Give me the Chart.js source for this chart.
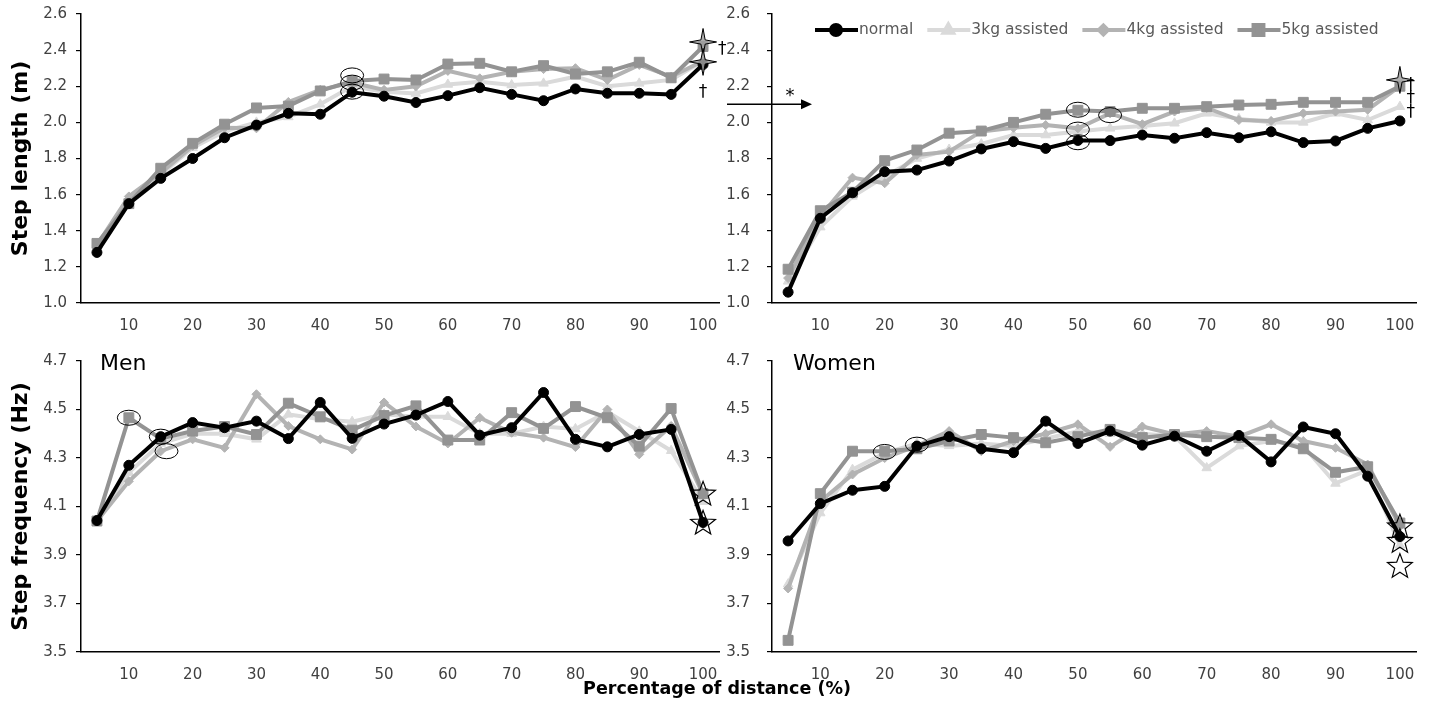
<!DOCTYPE html>
<html>
<head>
<meta charset="utf-8">
<script src="https://cdn.jsdelivr.net/npm/chart.js@4.4.1/dist/chart.umd.min.js"></script>
<style>
  body { margin: 0; background: #fff; }
  #wrap { position: relative; width: 1434px; height: 711px; overflow: hidden; }
  .box { position: absolute; width: 735px; height: 340px; }
  #xtitle { position: absolute; left: 0; width: 1434px; top: 678px; text-align: center;
            font: bold 17.5px "DejaVu Sans", sans-serif; color: #000; }
</style>
</head>
<body>
<div id="wrap">
  <div class="box" style="left:0;top:0"><canvas id="tl"></canvas></div>
  <div class="box" style="left:720px;top:0;width:714px"><canvas id="tr"></canvas></div>
  <div class="box" style="left:0;top:345px"><canvas id="bl"></canvas></div>
  <div class="box" style="left:720px;top:345px;width:714px"><canvas id="br"></canvas></div>
  <div id="xtitle">Percentage of distance (%)</div>
</div>
<script>
// categorias (% da distância) e nomes das séries
const categories = [5, 10, 15, 20, 25, 30, 35, 40, 45, 50, 55, 60, 65, 70, 75, 80, 85, 90, 95, 100];
const seriesNames = ['normal', '3kg assisted', '4kg assisted', '5kg assisted'];
const lengthTicks = [1.0, 1.2, 1.4, 1.6, 1.8, 2.0, 2.2, 2.4, 2.6];
const freqTicks = [3.5, 3.7, 3.9, 4.1, 4.3, 4.5, 4.7];

// Step length - men
const normalMenSL = [1.28, 1.55, 1.69, 1.80, 1.915, 1.985, 2.05, 2.045, 2.167, 2.145, 2.11, 2.148, 2.192, 2.155, 2.12, 2.185, 2.161, 2.161, 2.155, 2.32];
const kg3MenSL = [1.32, 1.57, 1.71, 1.86, 1.95, 2.00, 2.03, 2.10, 2.20, 2.17, 2.16, 2.21, 2.225, 2.207, 2.216, 2.253, 2.20, 2.216, 2.235, 2.34];
const kg4MenSL = [1.32, 1.59, 1.72, 1.87, 1.97, 1.967, 2.113, 2.18, 2.22, 2.18, 2.20, 2.285, 2.244, 2.28, 2.295, 2.30, 2.235, 2.318, 2.253, 2.34];
const kg5MenSL = [1.33, 1.55, 1.746, 1.884, 1.99, 2.08, 2.09, 2.174, 2.229, 2.24, 2.235, 2.323, 2.327, 2.28, 2.314, 2.268, 2.28, 2.333, 2.247, 2.42];

// Step length - women
const normalWomenSL = [1.06, 1.469, 1.61, 1.727, 1.736, 1.786, 1.853, 1.893, 1.856, 1.90, 1.899, 1.93, 1.912, 1.943, 1.915, 1.948, 1.888, 1.897, 1.967, 2.008];
const kg3WomenSL = [1.12, 1.42, 1.59, 1.70, 1.80, 1.85, 1.88, 1.93, 1.93, 1.95, 1.967, 1.98, 1.995, 2.05, 2.02, 2.0, 2.0, 2.05, 2.013, 2.087];
const kg4WomenSL = [1.138, 1.48, 1.694, 1.663, 1.82, 1.838, 1.95, 1.97, 1.985, 1.967, 2.05, 1.99, 2.06, 2.08, 2.013, 2.008, 2.05, 2.06, 2.07, 2.2];
const kg5WomenSL = [1.187, 1.511, 1.613, 1.788, 1.847, 1.94, 1.952, 2.0, 2.045, 2.067, 2.06, 2.078, 2.078, 2.087, 2.096, 2.10, 2.111, 2.111, 2.111, 2.2];

// Step frequency - men
const normalMenSF = [4.042, 4.27, 4.388, 4.446, 4.425, 4.452, 4.38, 4.529, 4.381, 4.44, 4.477, 4.533, 4.394, 4.425, 4.57, 4.377, 4.346, 4.397, 4.418, 4.034];
const kg3MenSF = [4.04, 4.24, 4.36, 4.40, 4.40, 4.377, 4.48, 4.46, 4.45, 4.48, 4.47, 4.47, 4.40, 4.40, 4.43, 4.42, 4.49, 4.41, 4.33, 4.12];
const kg4MenSF = [4.04, 4.204, 4.328, 4.377, 4.342, 4.563, 4.432, 4.377, 4.335, 4.529, 4.43, 4.36, 4.466, 4.404, 4.384, 4.345, 4.50, 4.315, 4.432, 4.15];
const kg5MenSF = [4.04, 4.466, 4.38, 4.411, 4.43, 4.397, 4.526, 4.47, 4.415, 4.475, 4.515, 4.374, 4.374, 4.487, 4.422, 4.512, 4.466, 4.349, 4.504, 4.153];

// Step frequency - women
const normalWomenSF = [3.958, 4.112, 4.167, 4.183, 4.349, 4.388, 4.338, 4.322, 4.452, 4.36, 4.411, 4.353, 4.39, 4.328, 4.393, 4.284, 4.428, 4.40, 4.225, 3.976];
const kg3WomenSF = [3.78, 4.073, 4.252, 4.32, 4.36, 4.35, 4.36, 4.35, 4.38, 4.41, 4.40, 4.40, 4.39, 4.259, 4.349, 4.37, 4.35, 4.195, 4.25, 3.94];
const kg4WomenSF = [3.762, 4.121, 4.232, 4.30, 4.35, 4.411, 4.328, 4.37, 4.40, 4.439, 4.346, 4.43, 4.397, 4.411, 4.388, 4.439, 4.37, 4.342, 4.273, 4.018];
const kg5WomenSF = [3.548, 4.153, 4.328, 4.328, 4.338, 4.37, 4.397, 4.384, 4.363, 4.388, 4.418, 4.384, 4.397, 4.388, 4.384, 4.377, 4.338, 4.241, 4.264, 4.032];

// marcas de significância (x em %, y no valor do eixo)
const menLengthCircles = [[45, 2.26], [45, 2.22], [45, 2.17]];
const menLengthSparkles = [[100, 2.445], [100, 2.335]];
const menLengthDaggers = [[103, 2.405], [100, 2.165]];
const womenLengthCircles = [[50, 2.07], [50, 1.96], [50, 1.89], [55, 2.04]];
const womenLengthSparkles = [[100, 2.235]];
const womenLengthDaggers = [[101.7, 2.205], [101.7, 2.13], [101.7, 2.052]];
const womenLengthArrow = 2.1;
const menFreqCircles = [[10, 4.466], [15, 4.388], [15.9, 4.328]];
const menFreqStars = [[100, 4.15], [100, 4.03]];
const womenFreqCircles = [[20, 4.325], [25, 4.355]];
const womenFreqStars = [[100, 4.015], [100, 3.955], [100, 3.852]];

Chart.defaults.font.family = '"DejaVu Sans", sans-serif';
Chart.defaults.font.size = 15;
Chart.defaults.color = '#404040';

const styles = [
  { color: '#000000', pointStyle: 'circle', radius: 5, order: 0 },
  { color: '#dadada', pointStyle: 'triangle', radius: 5.5, order: 3 },
  { color: '#b3b3b3', pointStyle: 'rectRot', radius: 4.5, order: 2 },
  { color: '#939393', pointStyle: 'rect', radius: 7, order: 1 }
];

function datasets(values) {
  return values.map((v, i) => ({
    label: seriesNames[i],
    data: v,
    borderColor: styles[i].color,
    backgroundColor: styles[i].color,
    pointBackgroundColor: styles[i].color,
    pointBorderColor: styles[i].color,
    pointStyle: styles[i].pointStyle,
    pointRadius: styles[i].radius,
    pointBorderWidth: 1,
    borderWidth: 4,
    tension: 0,
    order: styles[i].order
  }));
}

function marker(ctx, st, x, y) {
  ctx.fillStyle = st.color;
  ctx.strokeStyle = st.color;
  Chart.helpers.drawPoint(ctx, { pointStyle: st.pointStyle, radius: st.radius, borderWidth: 1, rotation: 0 }, x, y);
}

function sparkle(ctx, x, y) {
  ctx.beginPath();
  for (let i = 0; i < 8; i++) {
    const a = i * Math.PI / 4 - Math.PI / 2;
    const r = i % 2 ? 3 : 13.5;
    ctx.lineTo(x + Math.cos(a) * r, y + Math.sin(a) * r);
  }
  ctx.closePath();
  ctx.fillStyle = 'rgba(160,160,160,0.85)';
  ctx.fill();
  ctx.strokeStyle = '#000';
  ctx.lineWidth = 1;
  ctx.stroke();
}

function star(ctx, x, y) {
  ctx.beginPath();
  for (let i = 0; i < 10; i++) {
    const a = i * Math.PI / 5 - Math.PI / 2;
    const r = i % 2 ? 5.5 : 13;
    ctx.lineTo(x + Math.cos(a) * r, y + Math.sin(a) * r);
  }
  ctx.closePath();
  ctx.strokeStyle = '#000';
  ctx.lineWidth = 1.2;
  ctx.stroke();
}

// desenha círculos, estrelas, cruzes, seta, rótulo e legenda
const marks = {
  id: 'marks',
  afterDatasetsDraw(chart, args, o) {
    const ctx = chart.ctx, xs = chart.scales.x, ys = chart.scales.y, area = chart.chartArea;
    const px = v => xs.getPixelForValue((v - categories[0]) / (categories[1] - categories[0]));
    const py = v => ys.getPixelForValue(v);
    ctx.save();
    (o.circles || []).forEach(([v, y]) => {
      ctx.beginPath();
      ctx.ellipse(px(v), py(y), 11.5, 7.5, 0, 0, Math.PI * 2);
      ctx.strokeStyle = '#000';
      ctx.lineWidth = 1;
      ctx.stroke();
    });
    (o.sparkles || []).forEach(([v, y]) => sparkle(ctx, px(v), py(y)));
    (o.stars || []).forEach(([v, y]) => star(ctx, px(v), py(y)));
    ctx.fillStyle = '#000';
    ctx.strokeStyle = '#000';
    ctx.font = '17px "DejaVu Sans"';
    ctx.textAlign = 'center';
    ctx.textBaseline = 'middle';
    (o.daggers || []).forEach(([v, y]) => ctx.fillText('\u2020', px(v), py(y)));
    if (o.arrow != null) {
      const y = py(o.arrow), x0 = area.left - 45, x1 = area.left + 40;
      ctx.beginPath();
      ctx.moveTo(x0, y);
      ctx.lineTo(x1 - 8, y);
      ctx.lineWidth = 1.5;
      ctx.stroke();
      ctx.beginPath();
      ctx.moveTo(x1, y);
      ctx.lineTo(x1 - 11, y - 5);
      ctx.lineTo(x1 - 11, y + 5);
      ctx.closePath();
      ctx.fill();
      ctx.font = '18px "DejaVu Sans"';
      ctx.fillText('*', area.left + 18, y - 8);
    }
    if (o.label) {
      ctx.font = '22px "DejaVu Sans"';
      ctx.textAlign = 'left';
      ctx.fillText(o.label, area.left + o.labelX, area.top + 3);
    }
    if (o.legend) {
      let x = area.left + 43;
      const y = area.top + 16;
      ctx.font = '15.5px "DejaVu Sans"';
      ctx.textAlign = 'left';
      seriesNames.forEach((name, i) => {
        ctx.beginPath();
        ctx.moveTo(x, y);
        ctx.lineTo(x + 43, y);
        ctx.strokeStyle = styles[i].color;
        ctx.lineWidth = 4;
        ctx.stroke();
        marker(ctx, styles[i], x + 21, y);
        ctx.fillStyle = '#595959';
        ctx.fillText(name, x + 44, y);
        x += 44 + ctx.measureText(name).width + 14;
      });
    }
    ctx.restore();
  }
};

function noPad(s) {
  s.paddingTop = 0;
  s.paddingBottom = 0;
  s.paddingLeft = 0;
  s.paddingRight = 0;
}

function makeChart(id, values, yTicks, opt) {
  return new Chart(document.getElementById(id), {
    type: 'line',
    data: { labels: categories, datasets: datasets(values) },
    plugins: [marks],
    options: {
      responsive: true,
      maintainAspectRatio: false,
      animation: false,
      layout: { padding: { top: opt.top, right: opt.right, bottom: opt.bottom, left: 0 } },
      plugins: {
        legend: { display: false },
        tooltip: { enabled: false },
        marks: opt.marks
      },
      scales: {
        x: {
          type: 'category',
          offset: true,
          grid: { display: false },
          border: { display: true, color: '#000', width: 1.5 },
          ticks: {
            autoSkip: false,
            maxRotation: 0,
            padding: 6,
            color: '#404040',
            callback: (v, i) => (categories[i] % 10 === 0 ? String(categories[i]) : '')
          },
          afterFit: s => { s.height = 30; noPad(s); }
        },
        y: {
          min: yTicks[0],
          max: yTicks[yTicks.length - 1],
          afterBuildTicks: s => { s.ticks = yTicks.map(v => ({ value: v })); },
          grid: { drawOnChartArea: false, drawTicks: true, tickLength: 5, color: '#000', lineWidth: 1.2 },
          border: { display: true, color: '#000', width: 1.5 },
          ticks: { padding: opt.tickPad, color: '#404040', callback: v => Number(v).toFixed(1) },
          title: {
            display: !!opt.title,
            text: opt.title || '',
            color: '#000',
            font: { size: 22, weight: 'bold' },
            padding: { top: 8, bottom: 0 }
          },
          afterFit: s => { s.width = opt.yWidth; noPad(s); }
        }
      }
    }
  });
}

makeChart('tl', [normalMenSL, kg3MenSL, kg4MenSL, kg5MenSL], lengthTicks, {
  top: 14, right: 16, bottom: 7, yWidth: 81, tickPad: 9, title: 'Step length (m)',
  marks: { circles: menLengthCircles, sparkles: menLengthSparkles, daggers: menLengthDaggers }
});
makeChart('tr', [normalWomenSL, kg3WomenSL, kg4WomenSL, kg5WomenSL], lengthTicks, {
  top: 14, right: 18, bottom: 7, yWidth: 52, tickPad: 17,
  marks: { circles: womenLengthCircles, sparkles: womenLengthSparkles, daggers: womenLengthDaggers,
           arrow: womenLengthArrow, legend: true }
});
makeChart('bl', [normalMenSF, kg3MenSF, kg4MenSF, kg5MenSF], freqTicks, {
  top: 16, right: 16, bottom: 3, yWidth: 81, tickPad: 9, title: 'Step frequency (Hz)',
  marks: { circles: menFreqCircles, stars: menFreqStars, label: 'Men', labelX: 19 }
});
makeChart('br', [normalWomenSF, kg3WomenSF, kg4WomenSF, kg5WomenSF], freqTicks, {
  top: 16, right: 18, bottom: 3, yWidth: 52, tickPad: 17,
  marks: { circles: womenFreqCircles, stars: womenFreqStars, label: 'Women', labelX: 21 }
});
</script>
</body>
</html>
